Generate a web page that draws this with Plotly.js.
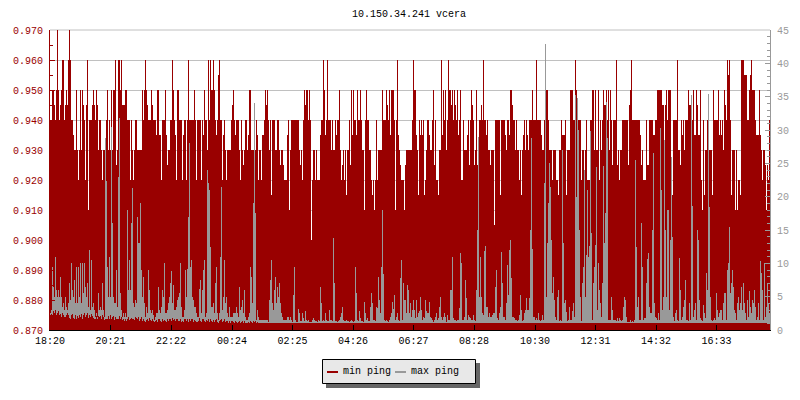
<!DOCTYPE html>
<html><head><meta charset="utf-8">
<script src="https://cdn.plot.ly/plotly-3.0.1.min.js"></script>
<style>html,body{margin:0;padding:0;background:#fff}#c{width:800px;height:400px}</style>
</head><body><div id="c"></div>
<script>
// minutes since 18:20 for the labelled ticks
const tickMinutes=[0,121,242,364,485,606,727,848,970,1091,1212,1333];
const tickLabels=["18:20","20:21","22:22","00:24","02:25","04:26","06:27","08:28","10:30","12:31","14:32","16:33"];
const stepMinutes=2;
const maxPingFloorRest=1.05;
// lower edge of the grey band in the first 8 hours, where it rides above the baseline
const maxPingFloorEarly=[
2.2,2.4,2.2,2.8,2.6,3,2.2,2.6,2.8,2.3,
2.4,2,2.6,2.2,2,1.9,2.3,2.6,2.2,1.8,
1.6,2.2,2.4,1.8,1.6,2.2,1.7,2.1,1.8,2.2,
1.9,2.4,1.7,2.2,2.6,1.9,2.2,2.5,1.8,2.3,
2,2.4,2.1,1.8,1.6,1.6,2.1,1.6,2.1,1.9,
2.1,1.7,2.2,1.9,1.5,1.7,1.6,1.7,2.1,1.6,
2.2,1.7,1.9,2.1,1.5,1.9,1.6,1.7,1.7,2.1,
1.6,1.9,1.5,1.6,1.4,1.7,1.3,1.7,1.9,1.5,
1.7,1.8,1.6,1.6,1.5,1.9,1.8,1.6,1.9,1.4,
1.7,1.9,1.4,1.6,1.3,1.2,1.5,1.6,1.3,1.8,
1.5,1.4,1.6,1.3,1.2,1.3,1.5,1.2,1.7,1.6,
1.4,1.2,1.6,1.3,1.5,1.3,1.2,1.6,1.4,1.7,
1.6,1.4,1.8,1.5,1.6,1.3,1.6,1.7,1.3,1.4,
1.6,1.2,1.3,1.2,1.6,1.6,1.3,1.7,1.2,1.6,
1.3,1.7,1.6,1.2,1.5,1.3,1.2,1.2,1.4,1.8,
1.4,1.2,1.7,1.6,1.3,1.2,1.5,1.4,1.7,1.2,
1.6,1.3,1.2,1.5,1.2,1.5,1.6,1.2,1.1,1.3,
1.5,1.7,1.2,1.3,1.6,1.2,1.4,1.3,1.1,1.3,
1.1,1.3,1.4,1.2,1.1,1.3,1.2,1.1,1.2,1.3,
1.1,1.2,1.3,1.1,1.4,1.1,1.1,1.1,1.2,1.1,
1.3,1.2,1.1,1.4,1.2,1.3,1.1,1.2,1.1,1.1
];
// min ping, left axis, one value per 2 minutes
const minPing=[
.94,.94,.95,.95,.945,.94,.95,.97,.95,.94,
.945,.95,.96,.96,.94,.945,.95,.945,.96,.97,
.96,.94,.94,.935,.93,.93,.95,.93,.92,.93,
.95,.93,.95,.945,.94,.92,.945,.96,.91,.94,
.94,.94,.945,.95,.945,.94,.95,.945,.93,.94,
.94,.93,.92,.93,.93,.93,.94,.95,.93,.94,
.93,.95,.93,.95,.95,.96,.925,.93,.96,.96,
.95,.96,.945,.945,.945,.95,.95,.94,.94,.94,
.92,.94,.93,.92,.93,.94,.94,.93,.93,.93,
.93,.93,.95,.94,.95,.96,.95,.945,.94,.94,
.94,.95,.945,.94,.94,.94,.935,.95,.95,.935,
.935,.92,.94,.94,.94,.95,.935,.925,.93,.93,
.94,.94,.96,.95,.94,.935,.92,.95,.95,.94,
.94,.94,.92,.935,.94,.94,.92,.94,.96,.94,
.94,.94,.94,.94,.95,.94,.92,.94,.94,.94,
.94,.92,.94,.935,.95,.94,.94,.93,.96,.94,
.96,.95,.95,.96,.95,.94,.935,.94,.955,.96,
.94,.94,.92,.935,.94,.93,.92,.93,.93,.93,
.93,.94,.945,.95,.94,.935,.94,.94,.94,.93,
.92,.94,.93,.925,.93,.94,.94,.93,.935,.95,
.95,.93,.93,.93,.93,.93,.94,.935,.92,.93,
.93,.92,.935,.935,.94,.95,.945,.95,.94,.93,
.94,.915,.94,.94,.94,.93,.93,.94,.94,.93,
.925,.93,.93,.925,.92,.92,.92,.935,.94,.91,
.93,.94,.94,.94,.94,.94,.94,.94,.94,.93,
.925,.93,.92,.94,.95,.945,.95,.95,.94,.95,
.94,.90,.92,.93,.93,.92,.93,.92,.92,.92,
.935,.94,.94,.96,.95,.935,.94,.96,.94,.94,
.94,.93,.94,.93,.93,.94,.935,.94,.94,.95,
.93,.92,.925,.93,.92,.93,.915,.93,.93,.94,
.925,.95,.935,.95,.94,.94,.935,.95,.94,.94,
.95,.94,.93,.93,.91,.94,.95,.94,.94,.93,
.93,.92,.915,.92,.91,.92,.94,.92,.93,.93,
.93,.93,.95,.94,.94,.94,.95,.945,.94,.95,
.935,.95,.95,.95,.94,.91,.94,.96,.935,.93,
.925,.92,.92,.92,.91,.925,.93,.93,.93,.93,
.93,.93,.94,.96,.95,.95,.935,.93,.915,.94,
.935,.94,.935,.94,.915,.92,.93,.94,.94,.935,
.93,.93,.94,.95,.925,.94,.92,.92,.915,.93,
.93,.96,.935,.95,.94,.95,.93,.94,.96,.95,
.95,.945,.95,.94,.95,.945,.94,.95,.935,.94,
.95,.92,.92,.94,.93,.93,.93,.935,.94,.925,
.94,.95,.945,.94,.925,.93,.95,.925,.92,.94,
.94,.945,.94,.96,.94,.94,.935,.94,.93,.93,
.925,.93,.93,.93,.905,.94,.94,.94,.94,.94,
.915,.94,.94,.94,.94,.935,.93,.94,.94,.935,
.95,.95,.945,.94,.94,.93,.94,.93,.93,.92,
.93,.915,.93,.935,.94,.93,.94,.935,.93,.94,
.94,.94,.95,.94,.94,.94,.96,.94,.94,.94,
.94,.935,.93,.93,.94,.93,.95,.95,.94,.93,
.93,.93,.92,.93,.93,.93,.92,.92,.915,.93,
.93,.94,.935,.935,.935,.94,.915,.93,.93,.93,
.95,.95,.95,.94,.94,.96,.95,.94,.94,.94,
.94,.92,.93,.93,.92,.93,.94,.92,.92,.92,
.94,.94,.95,.95,.93,.95,.93,.93,.95,.92,
.94,.93,.94,.95,.945,.945,.95,.94,.95,.93,
.95,.94,.925,.94,.94,.94,.96,.925,.93,.92,
.93,.93,.94,.94,.94,.94,.94,.94,.925,.945,
.95,.96,.94,.94,.94,.94,.94,.94,.94,.94,
.935,.925,.93,.92,.92,.92,.94,.925,.925,.94,
.94,.94,.94,.935,.935,.94,.94,.95,.95,.95,
.95,.95,.945,.945,.93,.945,.95,.94,.95,.95,
.95,.92,.915,.94,.94,.94,.94,.96,.93,.93,
.925,.94,.935,.94,.93,.94,.94,.94,.95,.945,
.945,.94,.94,.95,.935,.935,.95,.945,.935,.935,
.95,.92,.91,.94,.915,.93,.93,.94,.935,.93,
.93,.93,.915,.95,.94,.94,.94,.94,.95,.935,
.94,.935,.94,.93,.95,.945,.94,.96,.955,.96,
.94,.915,.93,.93,.93,.91,.93,.91,.92,.92,
.915,.96,.96,.96,.955,.955,.955,.94,.94,.95,
.955,.96,.95,.95,.95,.94,.935,.935,.935,.95,
.935,.93,.92,.93,.93,.925,.91,.925,.92,.94
];
// max ping, right axis, one value per 2 minutes
const maxPing=[
2.5,3,9.5,6.5,5,11,6,5,6,5,
8,5,3.5,4,3,5,3.5,3,4,7,
4.5,10,6,5,7.5,4,9.5,4,9.5,5,
10,4,10,5.5,10,6.5,5,7,3.5,12,
3,10.5,3.5,4,3,2,2.5,2,5.5,3,
3.5,3,7,3,2,28.8,22.3,9.5,5,11,
5,30.5,16,5,4,4,9,3.5,23,31.8,
5.5,3,2,2.5,2,2.5,2,18,6,10.5,
6,16,21.3,4,3.5,4.5,4,17,13,13,
19,9,5,8,4,2,3.5,2.5,9,6,
3,2.5,3,2.2,1.5,2,2.5,2.5,6.5,3,
2.5,3.5,6,5,10,2.5,2.5,3,4,5,
7,8.8,4,6.7,3,3,3.5,4.5,5,5.5,
10,3.5,2,2,3,9,5,9.2,17,28,
9.5,10.5,5,4.5,3.5,3.5,2.5,2,2,6.2,
7.5,2.5,6,9,10.5,2,2.5,24,22,21,
12.5,3.5,3.5,4,2.5,7,9.5,2.5,1.5,2.5,
11,21.5,3,5,10.5,4,5,2.5,2,3.5,
2,2,2,2.5,2.5,2.5,3.5,2.5,2,6.5,
3,3.5,4.5,2.5,6,2,1.5,1.5,2,2.5,
9.5,8,4,19,34,17.5,1.5,3,2,1.5,
1.5,1.5,1.5,1.5,1.5,1.5,1.5,1.5,1.2,4.5,
7.5,10.5,4,3,6,8,4,6.5,5,7,
4,2.5,2,1.5,1.5,1.5,1.5,2,2,1.5,
2,1.5,1.2,5.3,9.5,1.5,1.2,1.2,3.2,2.5,
1.3,1.3,2.5,1.8,1.3,2.8,1.5,1.3,1.5,1.2,
1.2,1.2,1.5,1.8,1.5,1.3,1.3,1.2,1.5,1.3,
6.5,4,1.3,1.5,1.3,2.5,1.5,1.3,1.3,3,
1.5,1.5,1.3,13.8,7,1.3,1.3,1.2,1.3,1.5,
2,2.5,3.5,1.5,1.3,1.3,1.5,1.3,1.3,1.2,
1.3,1.5,1.3,1.2,1.3,9.5,5.5,1.5,1.3,2.8,
1.8,1.3,1.3,1.2,4.2,2.5,1.5,1.8,1.3,1.3,
3.5,5.5,4,1.5,1.5,1.3,3.5,3.3,8,4.5,
2.5,9.5,18,8.4,1.5,1.3,1.5,1.3,1.2,1.5,
2,2.5,4.2,3.2,5.3,1.5,2,2.5,1.5,1.3,
7.8,10.5,1.5,7,4.5,4.5,2.5,6.7,6,2.5,
4,2,3,4.5,3,1.8,4.5,2,2.5,2.8,
5,3,1.5,2,1.8,4.5,2.8,2.5,2.5,4.2,
2,1.8,1.5,1.2,1.5,2,2.5,1.5,1.8,3.5,
5,2,1.5,2,2.5,2,1.2,2.2,1.5,1.5,
6,6,11,1.8,1.5,1.5,1.3,1.5,1.5,3.3,
11.5,10,1.5,1.5,2,7.5,4.8,1.5,2.3,2,
1.8,1.5,1.5,2.3,1.5,1.3,6,15,29,5,
11,5,2.5,2.3,11.8,12.6,3.5,3.5,2,2.5,
2,2,2.2,2.5,2.5,6.5,9,1.8,1.5,2.5,
3.5,11.7,7,2,2,1.5,4,9.7,5.3,12,
13.5,7.8,2,2,1.8,1.5,1.5,1.3,1.5,2.3,
5.3,3,1.3,1.5,2.5,3,4.8,3,3,4.8,
15,28.8,12.2,2,2,1.5,1.8,1.5,2.5,1.5,
1.3,1.5,2.2,1.5,22,42.9,5,13,19,25,
21.5,13.5,5.5,8,4.5,2,1.5,5,6,1.3,
1.5,1.3,27,13,4,4.5,2.7,1.3,1.5,3.5,
1.5,1.5,2.8,4,2,35.3,20,34.8,30,15,
5,1.3,7,9.5,24,5,11.3,21,11,12.6,
29.8,14.5,1.5,7,9.5,12.8,24.5,3,10,6,
4,2,7,24.6,13,17.5,34.2,28.8,1.5,1.5,
1.5,5,3,1.5,1.5,1.5,1.3,1.8,1.3,1.8,
1.5,1.3,1.5,3.5,5,4.5,2,1.2,1.2,1.2,
1.5,1.2,1.3,1.2,1.5,25.5,12.5,3.5,5,1.5,
1.5,16,9.5,1.5,1.8,1.8,7,10.7,11.5,3.5,
2.5,2.5,15,26.5,4,2,1.8,1.5,2.5,1.5,
30.3,21,3,5,28.5,15,5,18,18,3,
13.5,26,14,2,1.3,2.5,3,1.5,1.3,10.8,
6,1.5,2,3.5,4.5,7.5,1.5,1.5,1.3,4,
1.5,35.2,18.6,2,3,4,1.5,15,13.5,4.5,
1.8,1.5,1.3,3.8,2.5,1.8,8.5,6,35.4,18.4,
5,1.5,1.3,1.5,1.8,1.5,5.5,3,2,2.5,
3,3,1.5,4,5.5,5.5,1.5,9,10,15.5,
5.5,7,9,6.5,3,2.5,1.5,4,5,3,
4,6.5,3,7,4,2.5,1.5,4.5,2,5.8,
3.5,2.5,4.5,4,6,3.5,1.5,2,4,1.5,
10.3,8.5,6,1.5,10,2,3.5,7,4,2.5
];
const RED="#990000", GRAY="#999999", MONO="'Liberation Mono', 'DejaVu Sans Mono', monospace";
const px=v=>(v-50)/720, py=v=>(330-v)/300;
const xs=a=>a.map((_,i)=>(i+0.5)*stepMinutes);
const floorAt=i=>{const f=i<maxPingFloorEarly.length?maxPingFloorEarly[i]:maxPingFloorRest;return Math.min(f,maxPing[i]-0.1);};
const traces=[
 {type:"bar",name:"min ping",x:xs(minPing),y:minPing,yaxis:"y",width:stepMinutes,marker:{color:RED,line:{width:0}},showlegend:false,hoverinfo:"x+y"},
 {type:"bar",name:"max ping",x:xs(maxPing),y:maxPing.map((v,i)=>v-floorAt(i)),base:maxPing.map((_,i)=>floorAt(i)),yaxis:"y2",width:stepMinutes,marker:{color:GRAY,line:{width:0}},showlegend:false,hoverinfo:"x+y"}
];
const rect=(x0,y0,x1,y1,o)=>Object.assign({type:"rect",xref:"paper",yref:"paper",x0:px(x0),x1:px(x1),y0:py(y0),y1:py(y1),layer:"above"},o);
const layout={
 width:800,height:400,autosize:false,paper_bgcolor:"#fff",plot_bgcolor:"#fff",
 margin:{l:50,r:30,t:30,b:70,pad:0},barmode:"overlay",bargap:0,showlegend:false,
 font:{family:MONO,size:10,color:"#000"},
 title:{text:"10.150.34.241 vcera",font:{family:MONO,size:10,color:"#000"},x:409/800,xanchor:"center",y:1-13/400,yanchor:"middle"},
 xaxis:{range:[0,1440],tickmode:"array",tickvals:tickMinutes,ticktext:tickLabels,ticks:"inside",ticklen:5,tickwidth:1,tickcolor:"#000",showline:true,linecolor:"#000",linewidth:1,showgrid:false,zeroline:false,tickangle:0,ticklabelstandoff:1,tickfont:{family:MONO,size:10,color:"#000"}},
 yaxis:{range:[0.87,0.97],dtick:0.01,tick0:0.87,tickformat:".3f",ticks:"inside",ticklen:5,tickwidth:1,tickcolor:RED,showline:true,linecolor:RED,linewidth:1,showgrid:true,gridcolor:"#c0c0c0",gridwidth:1,zeroline:false,ticklabelstandoff:4,tickfont:{family:MONO,size:10,color:RED},minor:{dtick:0.005,tick0:0.87,ticks:"inside",ticklen:3,tickcolor:RED,showgrid:false}},
 yaxis2:{range:[0,45],dtick:5,overlaying:"y",side:"right",ticks:"inside",ticklen:5,tickwidth:1,tickcolor:GRAY,showline:true,linecolor:GRAY,linewidth:1,showgrid:false,zeroline:false,ticklabelstandoff:4,tickfont:{family:MONO,size:10,color:GRAY},minor:{dtick:1,tick0:0,ticks:"inside",ticklen:3,tickcolor:GRAY,showgrid:false}},
 shapes:[
  {type:"line",xref:"paper",yref:"paper",x0:0,x1:1,y0:1,y1:1,layer:"below",line:{color:"#c0c0c0",width:1}},
  rect(326,363,480,388,{fillcolor:"#666666",line:{width:0}}),
  rect(322.5,359.5,475.5,383.5,{fillcolor:"#e8e8e8",line:{color:"#000",width:1}}),
  rect(327,371,338,373,{fillcolor:RED,line:{width:0}}),
  rect(395,371,406,373,{fillcolor:GRAY,line:{width:0}})
 ],
 annotations:["min ping","max ping"].map((t,i)=>({text:t,xref:"paper",yref:"paper",x:px(i?409.5:341.5),y:py(371),xanchor:"left",yanchor:"middle",showarrow:false,borderpad:0,font:{family:MONO,size:10,color:"#000"}}))
};
Plotly.newPlot("c",traces,layout,{displayModeBar:false,staticPlot:true});
</script></body></html>
